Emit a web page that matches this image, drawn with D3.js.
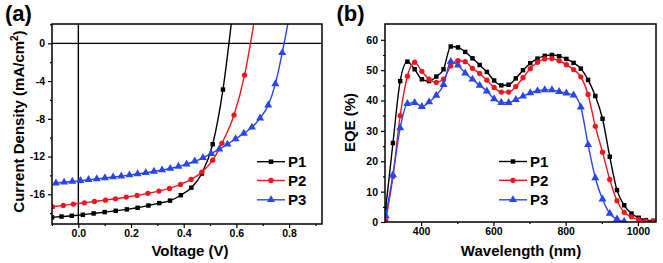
<!DOCTYPE html>
<html>
<head>
<meta charset="utf-8">
<script src="https://cdn.jsdelivr.net/npm/d3@7"></script>
<style>
  body { margin: 0; background: #fff; }
  svg text { font-family: "Liberation Sans", Arial, sans-serif; font-weight: bold; fill: #000; }
</style>
</head>
<body>
<svg id="chart" width="663" height="263"></svg>
<script>
// ---- panel (a): J-V curves ----
const voltP1 = [-0.100, -0.064, -0.025, 0.017, 0.058, 0.100, 0.142, 0.184, 0.225, 0.266, 0.307, 0.348, 0.389, 0.429, 0.469, 0.510, 0.549, 0.590];
const jscP1 = [-18.45, -18.36, -18.28, -18.17, -18.03, -17.89, -17.75, -17.60, -17.43, -17.19, -16.94, -16.67, -16.10, -15.30, -13.80, -10.70, -4.90, 4.40];

const voltP2 = [-0.098, -0.057, -0.019, 0.023, 0.061, 0.103, 0.141, 0.182, 0.223, 0.264, 0.306, 0.346, 0.388, 0.428, 0.469, 0.510, 0.545, 0.591, 0.631, 0.675];
const jscP2 = [-17.33, -17.18, -17.04, -16.90, -16.76, -16.62, -16.48, -16.30, -16.12, -15.90, -15.66, -15.38, -14.95, -14.42, -13.65, -12.38, -10.60, -7.60, -3.36, 3.60];

const voltP3 = [-0.085, -0.054, -0.023, 0.008, 0.039, 0.070, 0.101, 0.132, 0.163, 0.194, 0.225, 0.256, 0.287, 0.318, 0.349, 0.380, 0.411, 0.442, 0.473, 0.504, 0.535, 0.566, 0.597, 0.628, 0.659, 0.690, 0.721, 0.748, 0.774, 0.805];
const jscP3 = [-14.81, -14.73, -14.64, -14.55, -14.46, -14.37, -14.27, -14.17, -14.07, -13.96, -13.85, -13.72, -13.58, -13.43, -13.27, -13.05, -12.80, -12.50, -12.13, -11.70, -11.22, -10.70, -10.13, -9.55, -8.90, -7.92, -6.55, -4.30, -1.00, 3.50];

// ---- panel (b): EQE spectra ----
const wavelength = [302, 322, 342, 362, 382, 402, 422, 442, 462, 482, 502, 522, 542, 562, 582, 602, 622, 642, 662, 682, 702, 722, 742, 762, 782, 802, 822, 842, 862, 882, 902, 922, 942, 962, 982, 1002, 1022, 1042];
const eqeP1 = [4.5, 26, 46.4, 52.8, 50.3, 47, 46.4, 47.9, 50.3, 57.8, 57.5, 56, 53.9, 51.7, 49.4, 46.6, 45, 45.2, 47.3, 50, 52.3, 53.8, 54.7, 55, 54.6, 53.7, 52.4, 50.5, 46.8, 41.5, 34, 21.5, 10.5, 5.5, 2.8, 1.4, 0.6, 0.4];
const eqeP2 = [0.6, 15, 35, 48, 52.6, 49.6, 47, 46, 47, 51.4, 53.1, 52.8, 50.6, 48.9, 46.7, 44.3, 42.8, 42.8, 44.6, 47.5, 50.5, 52.6, 53.7, 53.8, 53.1, 51.8, 50.2, 47.8, 42, 31.5, 23, 14, 7, 3.2, 1.7, 0.8, 0.3, 0.2];
const wavelengthP3 = [302, 322, 342, 362, 382, 402, 422, 442, 462, 482, 502, 522, 542, 562, 582, 602, 622, 642, 662, 682, 702, 722, 742, 762, 782, 802, 822, 842, 862, 882, 902, 922, 942, 962];
const eqeP3 = [2, 15.5, 31, 39, 39.3, 38, 39.5, 41.7, 45.2, 52.8, 51.6, 49, 47, 45, 43.1, 40.5, 39.3, 39.3, 40.3, 41.4, 42.5, 43.2, 43.5, 43.5, 42.9, 42.4, 41.8, 37.8, 25.5, 14.5, 7.5, 2.8, 0.9, 0.2];

const seriesNames = ["P1", "P2", "P3"];
const colors = ["#000000", "#f2161c", "#2845f0"];
const symbols = [d3.symbolSquare, d3.symbolCircle, d3.symbolTriangle];
const symbolSizes = [20, 22, 28];

const jvTickX = [0, 0.2, 0.4, 0.6, 0.8];
const jvMinorX = [-0.1, 0.1, 0.3, 0.5, 0.7, 0.9];
const jvTickY = [0, -4, -8, -12, -16];
const jvMinorY = [2, -2, -6, -10, -14, -18];
const eqeTickX = [400, 600, 800, 1000];
const eqeMinorX = [500, 700, 900];
const eqeTickY = [0, 10, 20, 30, 40, 50, 60];
const eqeMinorY = [5, 15, 25, 35, 45, 55];

const svg = d3.select("#chart");

function drawPanel(p) {
  const g = svg.append("g");
  const x = d3.scaleLinear().domain(p.xDomain).range([p.left, p.right]);
  const y = d3.scaleLinear().domain(p.yDomain).range([p.bottom, p.top]);

  const clipId = "clip-" + p.name;
  svg.append("clipPath").attr("id", clipId)
    .append("rect")
    .attr("x", p.left).attr("y", p.top)
    .attr("width", p.right - p.left).attr("height", p.bottom - p.top);

  // axes, ticks pointing outward
  g.append("g").attr("transform", `translate(0,${p.bottom})`)
    .call(d3.axisBottom(x).tickValues(p.tickX).tickSize(4).tickPadding(2).tickFormat(p.fmtX));
  g.append("g").attr("transform", `translate(0,${p.bottom})`)
    .call(d3.axisBottom(x).tickValues(p.minorX).tickSize(2).tickFormat(""));
  g.append("g").attr("transform", `translate(${p.left},0)`)
    .call(d3.axisLeft(y).tickValues(p.tickY).tickSize(4).tickPadding(3).tickFormat(p.fmtY));
  g.append("g").attr("transform", `translate(${p.left},0)`)
    .call(d3.axisLeft(y).tickValues(p.minorY).tickSize(2).tickFormat(""));
  g.selectAll(".domain").remove();
  g.selectAll(".tick line").attr("stroke", "#000").attr("stroke-width", 1.2);
  g.selectAll(".tick text").style("font-size", "10.5px").style("font-family", "'Liberation Sans', Arial, sans-serif")
    .style("font-weight", "bold");

  // reference lines
  if (p.zeroLines) {
    g.append("line").attr("x1", p.left).attr("x2", p.right)
      .attr("y1", y(0)).attr("y2", y(0)).attr("stroke", "#000").attr("stroke-width", 1.4);
    g.append("line").attr("x1", x(0)).attr("x2", x(0))
      .attr("y1", p.top).attr("y2", p.bottom).attr("stroke", "#000").attr("stroke-width", 1.4);
  }

  const plot = g.append("g").attr("clip-path", `url(#${clipId})`);
  const line = d3.line().x(d => x(d[0])).y(d => y(d[1])).curve(d3.curveMonotoneX);

  p.series.forEach((s, i) => {
    const pts = s.xs.map((v, k) => [v, s.ys[k]]);
    plot.append("path").datum(pts)
      .attr("d", line)
      .attr("fill", "none")
      .attr("stroke", colors[i])
      .attr("stroke-width", 1.4);
    plot.selectAll(".m" + i)
      .data(pts)
      .enter()
      .append("path")
      .attr("transform", d => `translate(${x(d[0])},${y(d[1])})`)
      .attr("d", d3.symbol().type(symbols[i]).size(symbolSizes[i]))
      .attr("fill", colors[i]);
  });

  // frame
  g.append("rect")
    .attr("x", p.left).attr("y", p.top)
    .attr("width", p.right - p.left).attr("height", p.bottom - p.top)
    .attr("fill", "none").attr("stroke", "#000").attr("stroke-width", 1.5);

  // legend
  seriesNames.forEach((name, i) => {
    const ly = p.legendY[i];
    g.append("line").attr("x1", p.legendX[0]).attr("x2", p.legendX[1])
      .attr("y1", ly).attr("y2", ly).attr("stroke", colors[i]).attr("stroke-width", 1.4);
    g.append("path")
      .attr("transform", `translate(${(p.legendX[0] + p.legendX[1]) / 2},${ly})`)
      .attr("d", d3.symbol().type(symbols[i]).size(symbolSizes[i]))
      .attr("fill", colors[i]);
    g.append("text").attr("x", p.legendX[1] + 3).attr("y", ly + 5.3)
      .style("font-size", "15px").text(name);
  });

  // panel label
  g.append("text").attr("x", p.labelX).attr("y", 20.5)
    .style("font-size", "22px").text(p.label);

  // axis titles
  g.append("text").attr("x", (p.left + p.right) / 2 + p.xTitleShift).attr("y", 255.5)
    .attr("text-anchor", "middle").style("font-size", "15px").text(p.xTitle);

  const yt = g.append("text")
    .attr("transform", `translate(${p.yTitleX},${p.yTitleY}) rotate(-90)`)
    .attr("text-anchor", "middle").style("font-size", "15px");
  p.yTitle(yt);
}

drawPanel({
  name: "a", label: "(a)", labelX: 5,
  left: 52, right: 322, top: 24, bottom: 224,
  xDomain: [-0.1, 0.925], yDomain: [-19.15, 2.05],
  tickX: jvTickX, minorX: jvMinorX, tickY: jvTickY, minorY: jvMinorY,
  fmtX: d3.format(".1f"), fmtY: d => String(d),
  zeroLines: true,
  series: [
    { xs: voltP1, ys: jscP1 },
    { xs: voltP2, ys: jscP2 },
    { xs: voltP3, ys: jscP3 }
  ],
  legendX: [257, 285], legendY: [161.7, 180.5, 199.8],
  xTitle: "Voltage (V)", xTitleShift: 3,
  yTitleX: 23.5, yTitleY: 121.5,
  yTitle: t => {
    t.append("tspan").text("Current Density (mA/cm");
    t.append("tspan").attr("dy", -6).style("font-size", "10px").text("2");
    t.append("tspan").attr("dy", 6).text(")");
  }
});

drawPanel({
  name: "b", label: "(b)", labelX: 336.5,
  left: 385, right: 656, top: 24, bottom: 222,
  xDomain: [300, 1050], yDomain: [0, 65.2],
  tickX: eqeTickX, minorX: eqeMinorX, tickY: eqeTickY, minorY: eqeMinorY,
  fmtX: d => String(d), fmtY: d => String(d),
  zeroLines: false,
  series: [
    { xs: wavelength, ys: eqeP1 },
    { xs: wavelength, ys: eqeP2 },
    { xs: wavelengthP3, ys: eqeP3 }
  ],
  legendX: [499, 527], legendY: [161.5, 180.3, 199.8],
  xTitle: "Wavelength (nm)", xTitleShift: 0.5,
  yTitleX: 355, yTitleY: 122.5,
  yTitle: t => t.text("EQE (%)")
});
</script>
</body>
</html>
